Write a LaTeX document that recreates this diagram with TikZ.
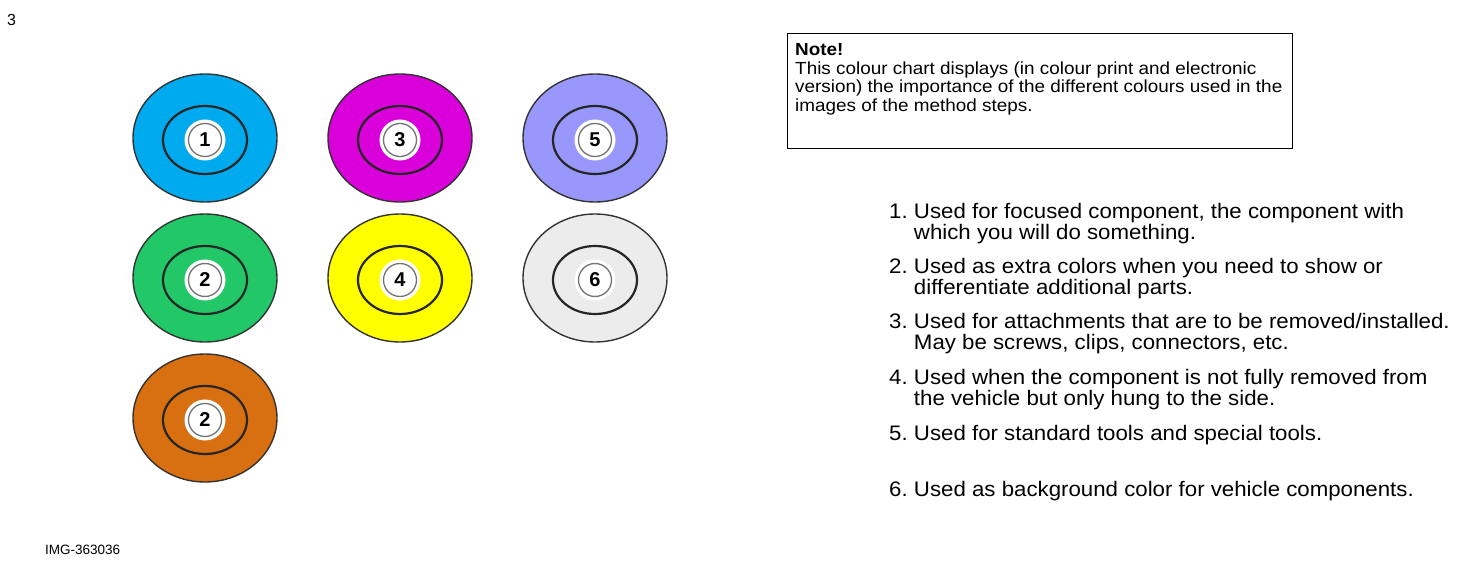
\documentclass[tikz,border=0pt]{standalone}
\usepackage{fontspec}
\setmainfont{Liberation Sans}
\newfontfamily\notefamily[FakeStretch=1.08]{Liberation Sans}
\newfontfamily\listfamily[FakeStretch=1.06]{Liberation Sans}
\usetikzlibrary{shapes.geometric,positioning}

\definecolor{focusblue}{RGB}{0,170,238}
\definecolor{extragreen}{RGB}{34,200,104}
\definecolor{extraorange}{RGB}{216,112,18}
\definecolor{attachmagenta}{RGB}{218,0,218}
\definecolor{hungyellow}{RGB}{255,255,0}
\definecolor{toolviolet}{RGB}{152,152,252}
\definecolor{backgray}{RGB}{236,236,236}

\newcommand{\notefont}{\notefamily\fontsize{17.5}{18.8}\selectfont}
\newcommand{\listfont}{\listfamily\fontsize{21}{18.5}\selectfont}

\begin{document}
\begin{tikzpicture}[x=1pt,y=-1pt,
    disc/.style={ellipse,draw=black!80,line width=1.4pt,
      minimum width=144pt,minimum height=128pt,inner sep=0pt},
    ring/.style={ellipse,draw=black!85,line width=2.2pt,
      minimum width=84pt,minimum height=68pt,inner sep=0pt},
    badge/.style={circle,fill=white,draw=black!55,line width=1.3pt,
      preaction={draw=white,line width=8pt},
      minimum size=33pt,inner sep=0pt,
      font=\fontsize{20}{20}\selectfont\bfseries},
    item/.style={anchor=north west,inner sep=0pt,font=\listfont}]
    \useasboundingbox (0,0) rectangle (1470,564);

    % Page number and image id
    \node[anchor=west,inner sep=0pt,font=\fontsize{16}{16}\selectfont] (page) at (7,20) {3};
    \node[anchor=west,inner sep=0pt,font=\fontsize{13.5}{13.5}\selectfont] (imgid) at (45,550) {IMG-363036};

    % Colour discs: name/x/y/colour/label
    \foreach \n/\x/\y/\col/\lab in {a/205/138/focusblue/1,
        b/205/278/extragreen/2,
        c/205/418/extraorange/2,
        d/400/138/attachmagenta/3,
        e/400/278/hungyellow/4,
        f/595/138/toolviolet/5,
        g/595/278/backgray/6} {
      \node[disc,fill=\col] (disc\n) at (\x,\y) {};
      \node[ring] (ring\n) at ([yshift=-2pt]disc\n.center) {};
      \node[badge] (num\n) at (ring\n.center) {\lab};
    }

    % Note box
    \node[draw,line width=1pt,anchor=north west,minimum width=505pt,
      minimum height=115pt,inner sep=0pt] (notebox) at (787,33) {};
    \node[anchor=north west,align=left,inner sep=0pt,font=\notefont]
      (note) at ([xshift=8pt,yshift=-10pt]notebox.north west)
      {\textbf{Note!}\\
       This colour chart displays (in colour print and electronic\\
       version) the importance of the different colours used in the\\
       images of the method steps.};

    % Explanations
    \node[item] (t1) at (889,203) {\begin{tabular}{@{}l@{\ }l@{}}
      1. & Used for focused component, the component with\\
         & which you will do something.\end{tabular}};
    \node[item] (t2) at (889,258) {\begin{tabular}{@{}l@{\ }l@{}}
      2. & Used as extra colors when you need to show or\\
         & differentiate additional parts.\end{tabular}};
    \node[item] (t3) at (889,313) {\begin{tabular}{@{}l@{\ }l@{}}
      3. & Used for attachments that are to be removed/installed.\\
         & May be screws, clips, connectors, etc.\end{tabular}};
    \node[item] (t4) at (889,369) {\begin{tabular}{@{}l@{\ }l@{}}
      4. & Used when the component is not fully removed from\\
         & the vehicle but only hung to the side.\end{tabular}};
    \node[item] (t5) at (889,425) {\begin{tabular}{@{}l@{\ }l@{}}
      5. & Used for standard tools and special tools.\end{tabular}};
    \node[item] (t6) at (889,481) {\begin{tabular}{@{}l@{\ }l@{}}
      6. & Used as background color for vehicle components.\end{tabular}};

  \end{tikzpicture}
\end{document}
